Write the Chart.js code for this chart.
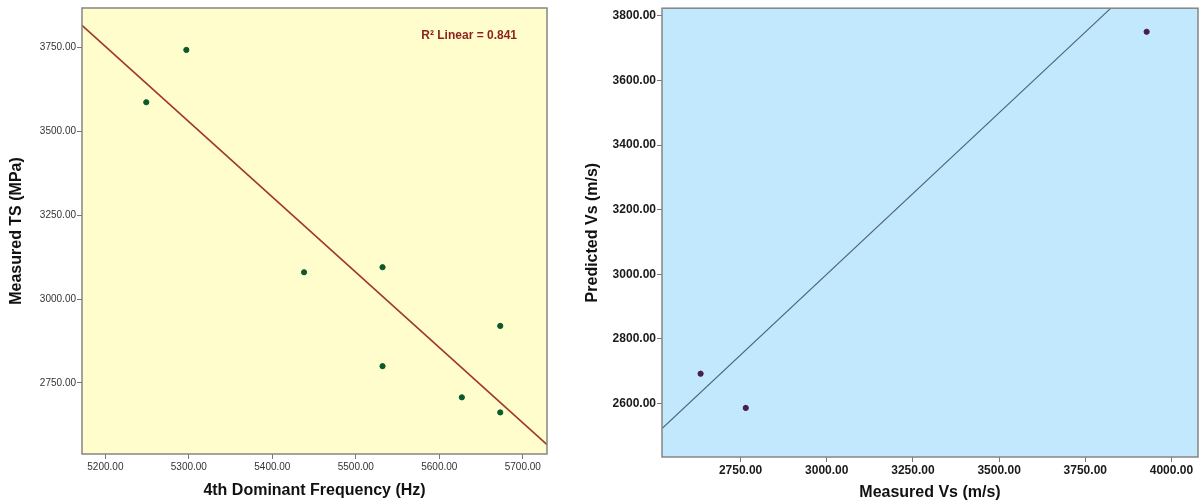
<!DOCTYPE html>
<html>
<head>
<meta charset="utf-8">
<script src="https://cdn.jsdelivr.net/npm/chart.js@4/dist/chart.umd.min.js"></script>
<style>
    body { margin: 0; background: #fff; width: 1203px; height: 503px; position: relative; overflow: hidden; }
    canvas { position: absolute; top: 0; }
    #tsChart { left: 0; }
    #vsChart { left: 560px; }
</style>
</head>
<body>
<canvas id="tsChart" width="560" height="503"></canvas>
<canvas id="vsChart" width="643" height="503"></canvas>
<script>
// left panel: 4th dominant frequency vs measured TS
const freqHz = [5249, 5297, 5438, 5532, 5532, 5627, 5673, 5673];
const measuredTS = [3587, 3743, 3080, 3095, 2800, 2707, 2920, 2662];
const freqTicks = [5200, 5300, 5400, 5500, 5600, 5700];
const tsTicks = [2750, 3000, 3250, 3500, 3750];
const rSqLabel = 'R\u00B2 Linear = 0.841';

// right panel: measured vs predicted Vs
const measuredVs = [2634, 2765, 3928];
const predictedVs = [2692, 2586, 3751];
const vsXTicks = [2750, 3000, 3250, 3500, 3750, 4000];
const vsYTicks = [2600, 2800, 3000, 3200, 3400, 3600, 3800];

const FONT = "'Liberation Sans', Arial, sans-serif";

// least squares fit for the left panel
function linearFit(xs, ys) {
    const n = xs.length;
    const mx = xs.reduce((a, b) => a + b, 0) / n;
    const my = ys.reduce((a, b) => a + b, 0) / n;
    let sxy = 0, sxx = 0;
    xs.forEach((x, i) => {
        sxy += (x - mx) * (ys[i] - my);
        sxx += (x - mx) * (x - mx);
    });
    const slope = sxy / sxx;
    return x => my + slope * (x - mx);
}

// fills the plot area and draws the frame round it
const framePlugin = {
    id: 'frame',
    beforeDraw(chart, args, opts) {
        const { ctx, chartArea: a } = chart;
        ctx.save();
        ctx.fillStyle = opts.fill;
        ctx.fillRect(a.left, a.top, a.right - a.left, a.bottom - a.top);
        ctx.restore();
    },
    afterDraw(chart, args, opts) {
        const { ctx, chartArea: a } = chart;
        ctx.save();
        ctx.strokeStyle = '#858585';
        ctx.lineWidth = 1.5;
        ctx.strokeRect(a.left, a.top, a.right - a.left, a.bottom - a.top);
        if (opts.note) {
            ctx.fillStyle = '#8E1F1F';
            ctx.font = 'bold 12px ' + FONT;
            ctx.textAlign = 'right';
            ctx.textBaseline = 'middle';
            ctx.fillText(opts.note, a.right - 30, a.top + 28);
        }
        ctx.restore();
    }
};

function makeAxis(cfg) {
    return {
        type: 'linear',
        position: cfg.position,
        min: cfg.min,
        max: cfg.max,
        afterBuildTicks: s => { s.ticks = cfg.ticks.map(v => ({ value: v })); },
        afterFit: s => {
            if (cfg.position === 'left') s.width = cfg.size; else s.height = cfg.size;
        },
        grid: { drawOnChartArea: false, drawTicks: true, tickLength: 5, tickColor: '#777', lineWidth: 1 },
        border: { display: false },
        ticks: {
            padding: cfg.tickPad,
            color: cfg.tickColor,
            font: { family: FONT, size: cfg.tickSize, weight: cfg.tickWeight },
            callback: v => Number(v).toFixed(2),
            maxRotation: 0,
            autoSkip: false
        },
        title: {
            display: true,
            text: cfg.title,
            color: '#111',
            font: { family: FONT, size: 16, weight: 'bold' },
            padding: cfg.titlePad
        }
    };
}

// left chart
const fit = linearFit(freqHz, measuredTS);
const tsX = { min: 5172, max: 5729 };
new Chart(document.getElementById('tsChart'), {
    type: 'scatter',
    data: {
        datasets: [
            {
                data: freqHz.map((x, i) => ({ x: x, y: measuredTS[i] })),
                backgroundColor: '#0B5A2C',
                borderColor: '#0B5A2C',
                pointRadius: 2.6
            },
            {
                data: [{ x: tsX.min, y: fit(tsX.min) }, { x: tsX.max, y: fit(tsX.max) }],
                showLine: true,
                borderColor: '#A0392C',
                borderWidth: 1.6,
                pointRadius: 0
            }
        ]
    },
    options: {
        responsive: false,
        animation: false,
        layout: { padding: { left: 0, top: 8, right: 13, bottom: 0 } },
        plugins: {
            legend: { display: false },
            tooltip: { enabled: false },
            frame: { fill: '#FEFDCB', note: rSqLabel }
        },
        scales: {
            x: makeAxis({ position: 'bottom', min: tsX.min, max: tsX.max, ticks: freqTicks, size: 49,
                tickPad: 2, tickColor: '#333', tickSize: 10, tickWeight: 'normal',
                title: '4th Dominant Frequency (Hz)', titlePad: { top: 0, bottom: 3 } }),
            y: makeAxis({ position: 'left', min: 2538, max: 3868, ticks: tsTicks, size: 82,
                tickPad: 1, tickColor: '#333', tickSize: 10, tickWeight: 'normal',
                title: 'Measured TS (MPa)', titlePad: { top: 7, bottom: 0 } })
        }
    },
    plugins: [framePlugin]
});

// right chart
const vsX = { min: 2522, max: 4077 };
new Chart(document.getElementById('vsChart'), {
    type: 'scatter',
    data: {
        datasets: [
            {
                data: measuredVs.map((x, i) => ({ x: x, y: predictedVs[i] })),
                backgroundColor: '#4A1D4C',
                borderColor: '#4A1D4C',
                pointRadius: 2.6
            },
            {
                // y = x reference line
                data: [{ x: vsX.min, y: vsX.min }, { x: vsX.max, y: vsX.max }],
                showLine: true,
                borderColor: '#4C6676',
                borderWidth: 1.1,
                pointRadius: 0
            }
        ]
    },
    options: {
        responsive: false,
        animation: false,
        layout: { padding: { left: 0, top: 7, right: 4, bottom: 0 } },
        plugins: {
            legend: { display: false },
            tooltip: { enabled: false },
            frame: { fill: '#C1E8FC' }
        },
        scales: {
            x: makeAxis({ position: 'bottom', min: vsX.min, max: vsX.max, ticks: vsXTicks, size: 46,
                tickPad: 1, tickColor: '#1a1a1a', tickSize: 12, tickWeight: 'bold',
                title: 'Measured Vs (m/s)', titlePad: { top: 0, bottom: 1 } }),
            y: makeAxis({ position: 'left', min: 2434, max: 3824, ticks: vsYTicks, size: 102,
                tickPad: 1, tickColor: '#1a1a1a', tickSize: 12, tickWeight: 'bold',
                title: 'Predicted Vs (m/s)', titlePad: { top: 23, bottom: 0 } })
        }
    },
    plugins: [framePlugin]
});
</script>
</body>
</html>
